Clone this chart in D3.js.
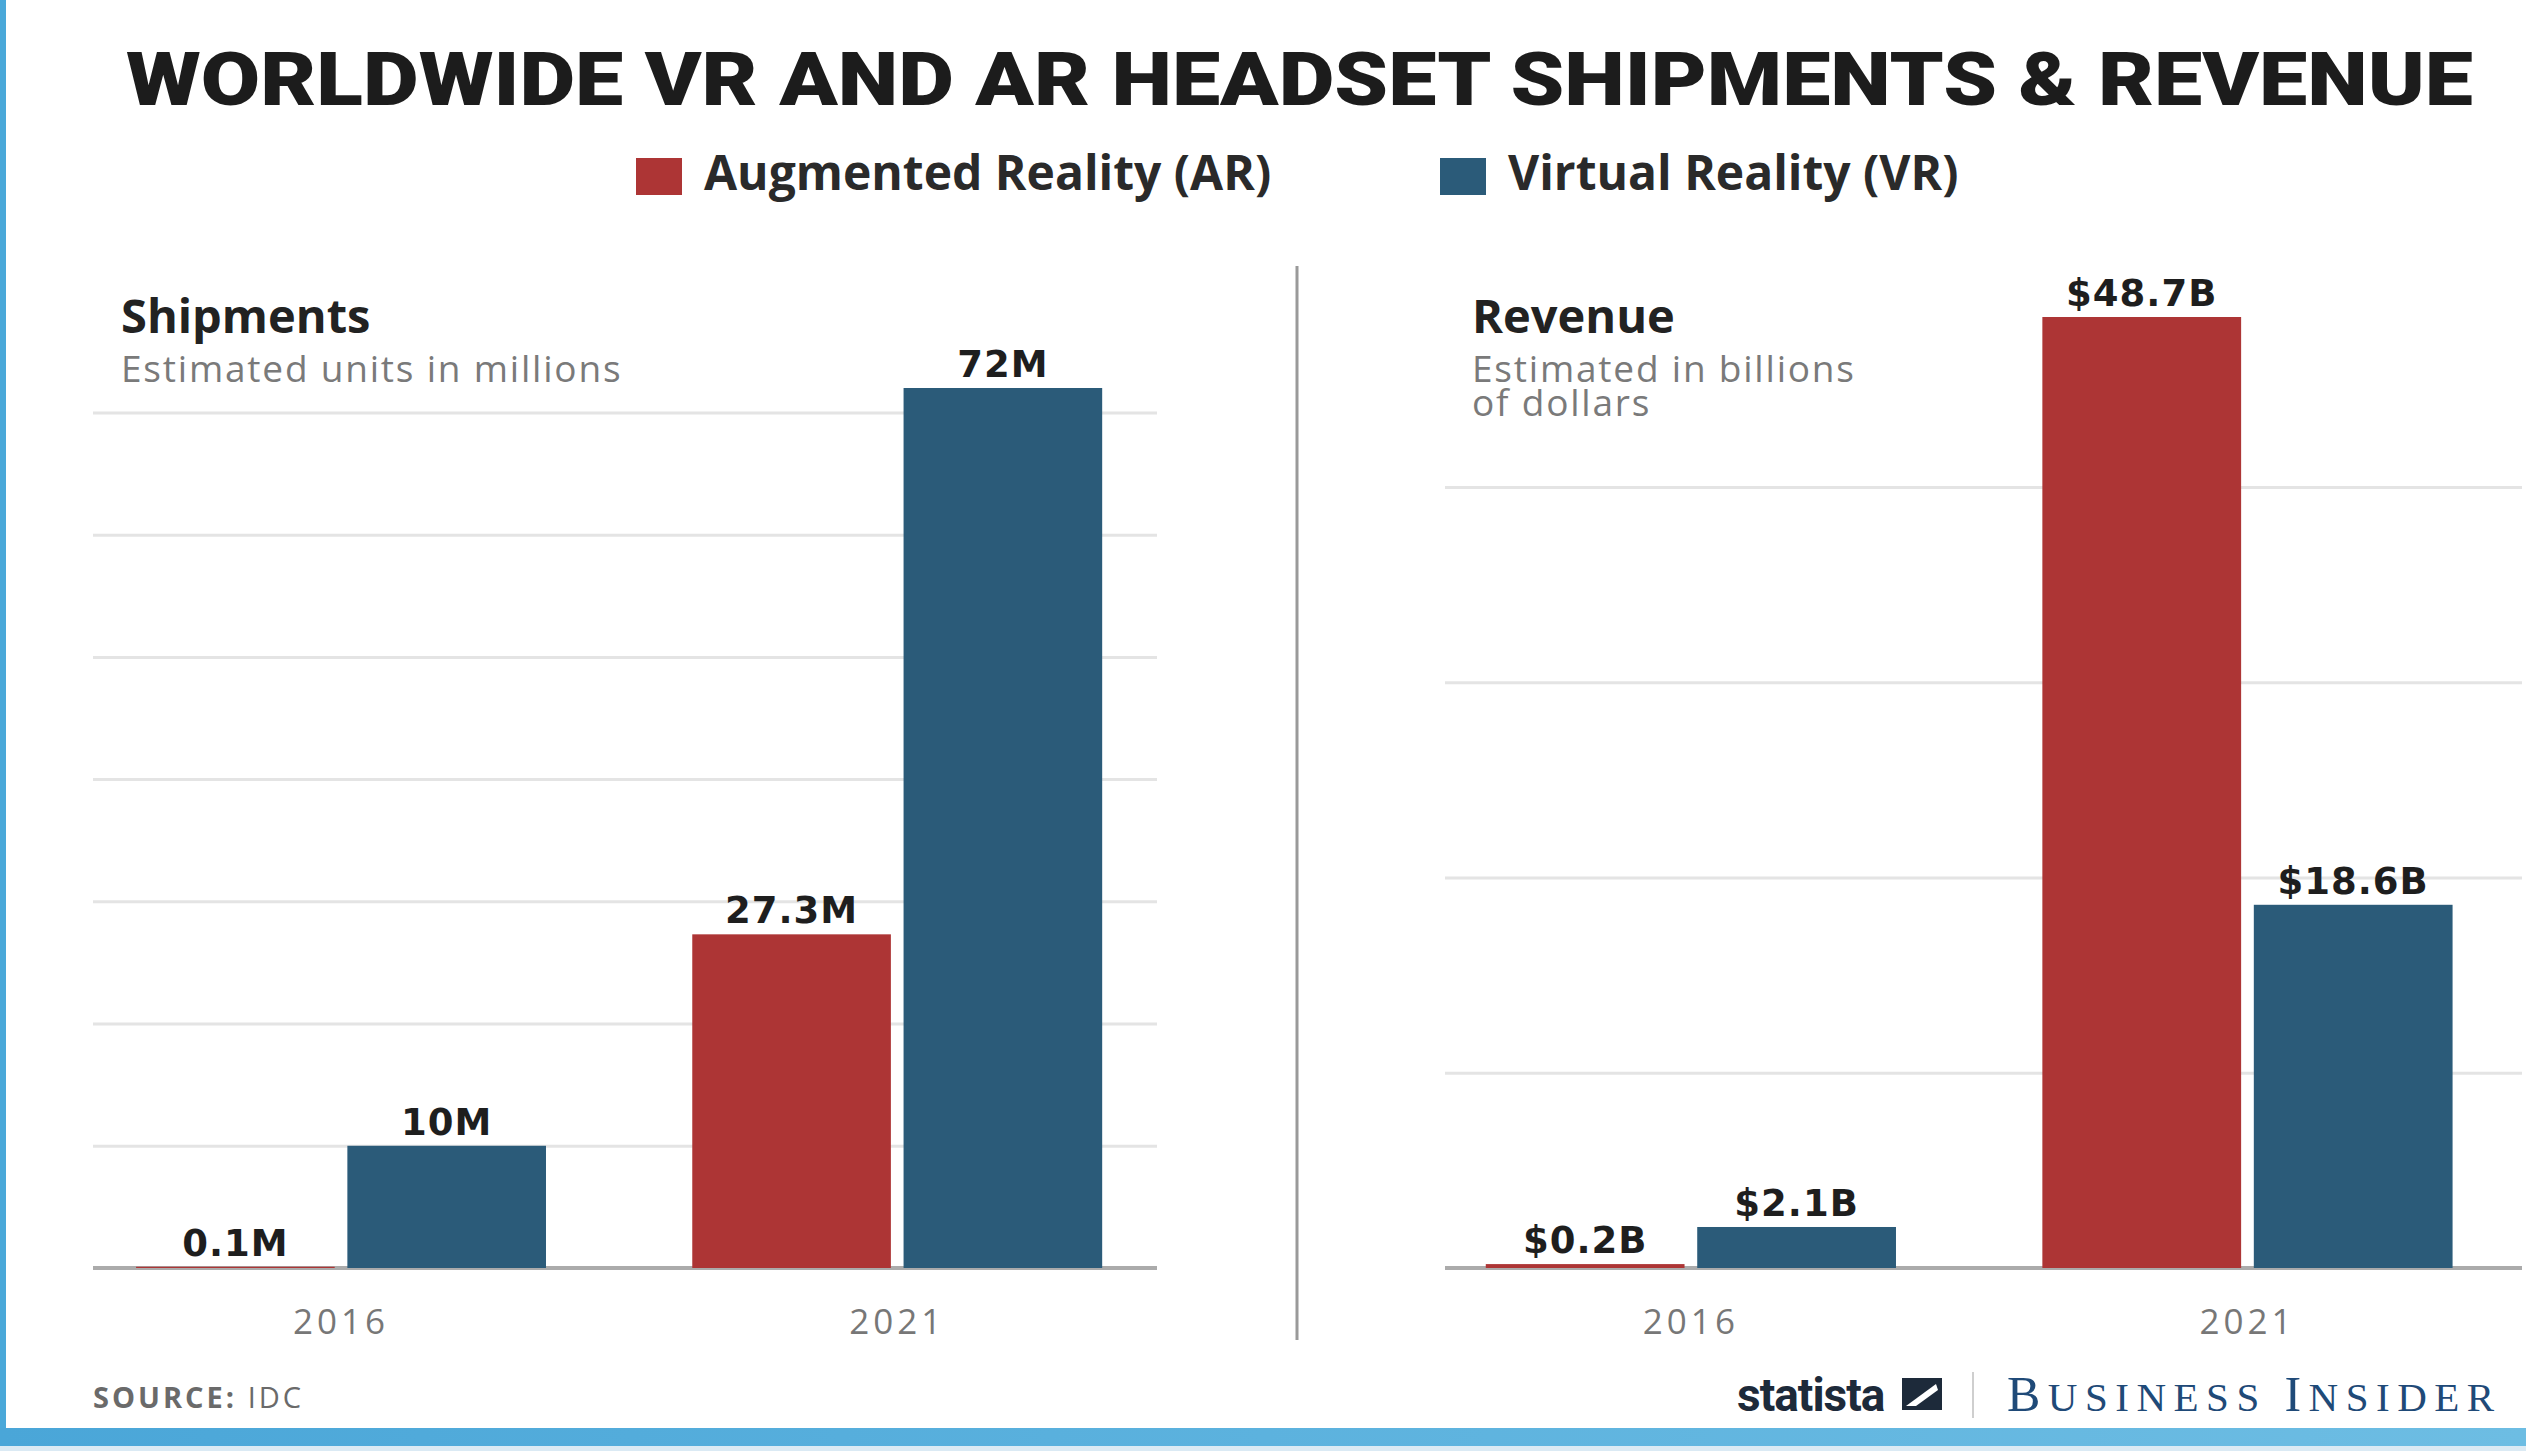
<!DOCTYPE html>
<html>
<head>
<meta charset="utf-8">
<script src="https://cdn.jsdelivr.net/npm/d3@7"></script>
<style>
  body { margin: 0; background: #fff; }
  svg { display: block; }
</style>
</head>
<body>
<div id="chart"></div>
<script>
// values
const years = ['2016', '2021'];
const seriesNames = ['Augmented Reality (AR)', 'Virtual Reality (VR)'];
const seriesKeys = ['ar', 've'];
const shipmentsAR = [0.1, 27.3];
const shipmentsVR = [10, 72];
const revenueAR = [0.2, 48.7];
const revenueVR = [2.1, 18.6];
const shipmentTicks = [10, 20, 30, 40, 50, 60, 70];
const revenueTicks = [10, 20, 30, 40];

const width = 2526;
const height = 1451;
const colors = { ar: '#ad3535', ve: '#2b5b79' };
const baseY = 1268;
const sans = '"Open Sans", Roboto, sans-serif';

const panels = [
  {
    title: 'Shipments',
    sub: ['Estimated units in millions'],
    textX: 121,
    gridLeft: 93, gridRight: 1157,
    align: 0.44, padOuter: 0.088,
    max: 72, top: 388,
    ticks: shipmentTicks,
    values: years.map((y, i) => ({ year: y, ar: shipmentsAR[i], ve: shipmentsVR[i] })),
    fmt: (d) => d + 'M',
  },
  {
    title: 'Revenue',
    sub: ['Estimated in billions', 'of dollars'],
    textX: 1472,
    gridLeft: 1445, gridRight: 2522,
    align: 0.37, padOuter: 0.099,
    max: 48.7, top: 317,
    ticks: revenueTicks,
    values: years.map((y, i) => ({ year: y, ar: revenueAR[i], ve: revenueVR[i] })),
    fmt: (d) => '$' + d + 'B',
  },
];

const svg = d3.select('#chart')
  .append('svg')
  .attr('width', width)
  .attr('height', height)
  .style('font-family', sans);

// frame: blue strip on the left and at the bottom
const grad = svg.append('defs').append('linearGradient')
  .attr('id', 'band').attr('x1', 0).attr('x2', 1);
grad.append('stop').attr('offset', 0).attr('stop-color', '#4aa6d8');
grad.append('stop').attr('offset', 0.5).attr('stop-color', '#5cb2de');
grad.append('stop').attr('offset', 1).attr('stop-color', '#6dbde3');

svg.append('rect').attr('x', 0).attr('y', 0).attr('width', 6).attr('height', 1428).attr('fill', '#4aa8d9');
svg.append('rect').attr('x', 0).attr('y', 1428).attr('width', width).attr('height', 18).attr('fill', 'url(#band)');
svg.append('rect').attr('x', 0).attr('y', 1446).attr('width', width).attr('height', 5).attr('fill', '#dbeaf4');

// title
svg.append('text')
  .attr('x', 126)
  .attr('y', 105)
  .attr('textLength', 2347)
  .attr('lengthAdjust', 'spacingAndGlyphs')
  .style('font-family', 'Roboto, sans-serif')
  .style('font-size', '75px')
  .style('font-weight', 900)
  .style('fill', '#1c1c1c')
  .text('WORLDWIDE VR AND AR HEADSET SHIPMENTS & REVENUE');

// legend
const legendX = [636, 1440];
const legend = svg.append('g').attr('class', 'legend');
seriesNames.forEach((name, i) => {
  const g = legend.append('g').attr('transform', `translate(${legendX[i]}, 0)`);
  g.append('rect')
    .attr('x', 0).attr('y', 158)
    .attr('width', 46).attr('height', 37)
    .attr('fill', colors[seriesKeys[i]]);
  g.append('text')
    .attr('x', 68).attr('y', 190)
    .style('font-size', '48px')
    .style('font-weight', 700)
    .style('fill', '#2a2a2a')
    .text(name);
});

// divider between the panels
svg.append('line')
  .attr('x1', 1297).attr('x2', 1297)
  .attr('y1', 266).attr('y2', 1340)
  .attr('stroke', '#9a9a9a')
  .attr('stroke-width', 3);

panels.forEach(drawPanel);

function drawPanel(p) {
  const g = svg.append('g');

  const x0 = d3.scaleBand()
    .domain(years)
    .range([p.gridLeft, p.gridRight])
    .paddingInner(0.263)
    .paddingOuter(p.padOuter)
    .align(p.align);

  const x1 = d3.scaleBand()
    .domain(seriesKeys)
    .range([0, x0.bandwidth()])
    .paddingInner(0.06);

  const y = d3.scaleLinear()
    .domain([0, p.max])
    .range([baseY, p.top]);

  // gridlines
  const grid = g.append('g')
    .attr('transform', `translate(${p.gridLeft}, 0)`)
    .call(d3.axisLeft(y).tickValues(p.ticks).tickFormat('').tickSize(-(p.gridRight - p.gridLeft)));
  grid.select('.domain').remove();
  grid.selectAll('line').attr('stroke', '#e4e4e4').attr('stroke-width', 3);

  // baseline
  g.append('line')
    .attr('x1', p.gridLeft).attr('x2', p.gridRight)
    .attr('y1', baseY).attr('y2', baseY)
    .attr('stroke', '#ababab')
    .attr('stroke-width', 4);

  // titles
  g.append('text')
    .attr('x', p.textX).attr('y', 333)
    .style('font-size', '47px')
    .style('font-weight', 700)
    .style('fill', '#222')
    .text(p.title);
  p.sub.forEach((line, i) => {
    g.append('text')
      .attr('x', p.textX).attr('y', 382 + i * 34)
      .style('font-size', '37px')
      .style('fill', '#7a7a7a')
      .style('letter-spacing', '1.8px')
      .text(line);
  });

  // bars
  const groups = g.selectAll('.year')
    .data(p.values)
    .join('g')
    .attr('class', 'year')
    .attr('transform', (d) => `translate(${x0(d.year)}, 0)`);

  const cells = groups.selectAll('g')
    .data((d) => seriesKeys.map((k) => ({ key: k, value: d[k] })))
    .join('g');

  cells.append('rect')
    .attr('x', (d) => x1(d.key))
    .attr('y', (d) => y(d.value))
    .attr('width', x1.bandwidth())
    .attr('height', (d) => baseY - y(d.value))
    .attr('fill', (d) => colors[d.key]);

  cells.append('text')
    .attr('x', (d) => x1(d.key) + x1.bandwidth() / 2)
    .attr('y', (d) => y(d.value) - 11)
    .attr('text-anchor', 'middle')
    .style('font-family', '"DejaVu Sans", sans-serif')
    .style('font-size', '37px')
    .style('font-weight', 700)
    .style('letter-spacing', '1px')
    .style('fill', '#1e1e1e')
    .text((d) => p.fmt(d.value));

  // year axis
  const xAxis = g.append('g')
    .attr('transform', `translate(0, ${baseY})`)
    .call(d3.axisBottom(x0).tickSize(0).tickPadding(41));
  xAxis.select('.domain').remove();
  xAxis.selectAll('text')
    .style('font-family', sans)
    .style('font-size', '35px')
    .style('letter-spacing', '4px')
    .style('fill', '#777')
    .attr('dy', '0.71em');
}

// footer
const source = svg.append('text')
  .attr('x', 93).attr('y', 1408)
  .style('font-size', '29px')
  .style('letter-spacing', '3px')
  .style('fill', '#6a6a6a');
source.append('tspan').style('font-weight', 700).text('SOURCE:');
source.append('tspan').text(' IDC');

svg.append('text')
  .attr('x', 1737).attr('y', 1411)
  .style('font-family', 'Roboto, sans-serif')
  .style('font-size', '46px')
  .style('font-weight', 700)
  .style('letter-spacing', '-1px')
  .style('fill', '#1d2a3a')
  .text('statista');

const logo = svg.append('g').attr('transform', 'translate(1902, 1378)');
logo.append('rect').attr('width', 40).attr('height', 32).attr('fill', '#1d2a3a');
logo.append('path').attr('d', 'M4,28 L34,6 L36,12 L14,28 Z').attr('fill', '#fff');

svg.append('line')
  .attr('x1', 1973).attr('x2', 1973)
  .attr('y1', 1372).attr('y2', 1418)
  .attr('stroke', '#cfcfcf')
  .attr('stroke-width', 2);

const bi = svg.append('text')
  .attr('x', 2007).attr('y', 1411)
  .style('font-family', '"Liberation Serif", serif')
  .style('letter-spacing', '7.5px')
  .style('fill', '#1f4a78');
bi.append('tspan').style('font-size', '50px').text('B');
bi.append('tspan').style('font-size', '41px').text('USINESS ');
bi.append('tspan').style('font-size', '50px').text('I');
bi.append('tspan').style('font-size', '41px').text('NSIDER');
</script>
</body>
</html>
